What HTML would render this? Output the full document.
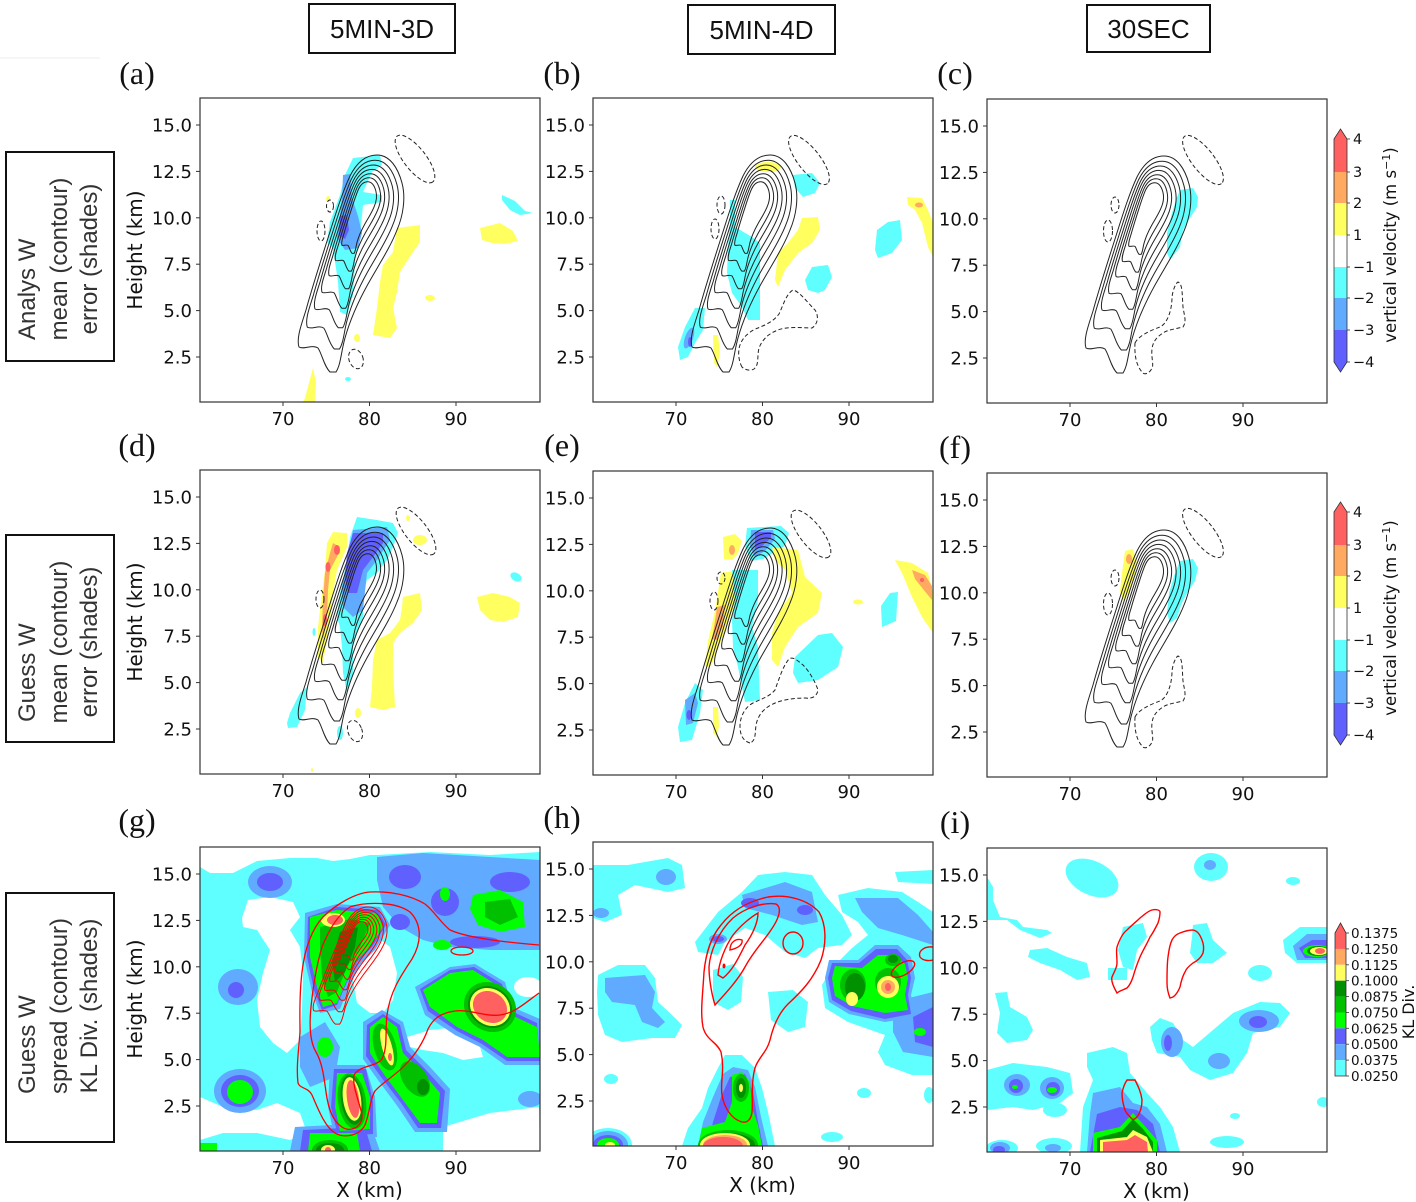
<!DOCTYPE html>
<html><head><meta charset="utf-8">
<style>
html,body{margin:0;padding:0;background:#fff;}
svg{display:block;}
.t{font-family:"DejaVu Sans","Liberation Sans",sans-serif;font-size:18px;fill:#111;}
.e{text-anchor:end;}
.m{text-anchor:middle;}
.lab{font-family:"DejaVu Sans","Liberation Sans",sans-serif;font-size:20px;fill:#111;text-anchor:middle;}
.cb{font-family:"DejaVu Sans","Liberation Sans",sans-serif;font-size:14.5px;fill:#111;}
.cb3{font-family:"DejaVu Sans","Liberation Sans",sans-serif;font-size:13.5px;fill:#111;}
.hd{font-family:"Liberation Sans",sans-serif;font-size:26px;fill:#111;text-anchor:middle;}
.bx{font-family:"Liberation Sans",sans-serif;font-size:24px;fill:#333;}
.pl{font-family:"Liberation Serif",serif;font-size:32px;fill:#111;text-anchor:middle;}
.dash{fill:none;stroke:#222;stroke-width:1;stroke-dasharray:4 2.5;}
</style></head><body>
<svg width="1416" height="1202" viewBox="0 0 1416 1202" xmlns="http://www.w3.org/2000/svg">
<defs>
<clipPath id="cp"><rect x="0" y="0" width="340" height="304"/></clipPath>
<path id="oc" fill="none" vector-effect="non-scaling-stroke" d="M130,274 C124,268 122,256 118,250 C112,246 104,252 99,249 C96,240 102,225 106,212 C112,190 120,165 128,140 C135,118 142,95 150,78 C157,64 166,57 177,57 C190,57 198,70 202,85 C206,100 203,118 197,132 C190,150 178,168 168,186 C158,204 150,222 145,240 C141,254 141,266 136,274 Z"/>
<g id="nest">
<use href="#oc"/>
<use href="#oc" transform="matrix(0.87 0 0 0.87 21.19 12.61)"/>
<use href="#oc" transform="matrix(0.75 0 0 0.75 40.75 24.25)"/>
<use href="#oc" transform="matrix(0.64 0 0 0.64 58.68 34.92)"/>
<use href="#oc" transform="matrix(0.53 0 0 0.53 76.61 45.59)"/>
<use href="#oc" transform="matrix(0.43 0 0 0.43 92.91 55.29)"/>
<use href="#oc" transform="matrix(0.33 0 0 0.33 109.21 64.99)"/>
</g>
<g id="ticks" stroke="#333" stroke-width="1">
<line x1="-4" y1="27" x2="0" y2="27"/><line x1="-4" y1="73.4" x2="0" y2="73.4"/><line x1="-4" y1="119.8" x2="0" y2="119.8"/><line x1="-4" y1="166.2" x2="0" y2="166.2"/><line x1="-4" y1="212.6" x2="0" y2="212.6"/><line x1="-4" y1="259" x2="0" y2="259"/>
<line x1="83" y1="304" x2="83" y2="308"/><line x1="169.5" y1="304" x2="169.5" y2="308"/><line x1="256" y1="304" x2="256" y2="308"/>
</g>
<g id="cbar1">
<polygon fill="#ff6060" points="1334,172 1334,139 1340.5,129 1347,139 1347,172"/>
<rect x="1334" y="172" width="13" height="31" fill="#ffaa60"/>
<rect x="1334" y="203" width="13" height="32" fill="#ffff60"/>
<rect x="1334" y="235" width="13" height="32" fill="#ffffff"/>
<rect x="1334" y="267" width="13" height="31" fill="#60ffff"/>
<rect x="1334" y="298" width="13" height="32" fill="#60aaff"/>
<polygon fill="#6060ff" points="1334,330 1347,330 1347,362 1340.5,372 1334,362"/>
<polygon fill="none" stroke="#333" stroke-width="0.8" points="1334,139 1340.5,129 1347,139 1347,362 1340.5,372 1334,362"/>
<g stroke="#333" stroke-width="0.8"><line x1="1347" y1="139" x2="1350" y2="139"/><line x1="1347" y1="172" x2="1350" y2="172"/><line x1="1347" y1="203" x2="1350" y2="203"/><line x1="1347" y1="235" x2="1350" y2="235"/><line x1="1347" y1="267" x2="1350" y2="267"/><line x1="1347" y1="298" x2="1350" y2="298"/><line x1="1347" y1="330" x2="1350" y2="330"/><line x1="1347" y1="362" x2="1350" y2="362"/></g>
</g>
</defs>

<line x1="0" y1="58" x2="100" y2="58" stroke="#eeeeee" stroke-width="1"/>

<!-- Headers -->
<rect x="309" y="4" width="146" height="49" fill="none" stroke="#111" stroke-width="2"/>
<text class="hd" x="382" y="38">5MIN-3D</text>
<rect x="688" y="5" width="147" height="49" fill="none" stroke="#111" stroke-width="2"/>
<text class="hd" x="761.5" y="39">5MIN-4D</text>
<rect x="1087" y="5" width="123" height="47" fill="none" stroke="#111" stroke-width="2"/>
<text class="hd" x="1148.5" y="38">30SEC</text>

<!-- Left row boxes -->
<rect x="6" y="152" width="108" height="209" fill="none" stroke="#111" stroke-width="2"/>
<text class="bx" transform="translate(35 340) rotate(-90)">Analys W</text>
<text class="bx" text-anchor="middle" transform="translate(67 259) rotate(-90)">mean (contour)</text>
<text class="bx" text-anchor="middle" transform="translate(97 259) rotate(-90)">error (shades)</text>

<rect x="6" y="535" width="108" height="207" fill="none" stroke="#111" stroke-width="2"/>
<text class="bx" transform="translate(35 722) rotate(-90)">Guess W</text>
<text class="bx" text-anchor="middle" transform="translate(67 642) rotate(-90)">mean (contour)</text>
<text class="bx" text-anchor="middle" transform="translate(97 642) rotate(-90)">error (shades)</text>

<rect x="6" y="893" width="108" height="249" fill="none" stroke="#111" stroke-width="2"/>
<text class="bx" transform="translate(35 1094) rotate(-90)">Guess W</text>
<text class="bx" text-anchor="middle" transform="translate(67 1006) rotate(-90)">spread (contour)</text>
<text class="bx" text-anchor="middle" transform="translate(97 1006) rotate(-90)">KL Div. (shades)</text>

<!-- Panel letters -->
<text class="pl" x="137" y="84">(a)</text>
<text class="pl" x="562" y="84">(b)</text>
<text class="pl" x="955" y="84">(c)</text>
<text class="pl" x="137" y="456">(d)</text>
<text class="pl" x="562" y="456">(e)</text>
<text class="pl" x="955" y="458">(f)</text>
<text class="pl" x="137" y="831">(g)</text>
<text class="pl" x="562" y="828">(h)</text>
<text class="pl" x="955" y="833">(i)</text>

<!-- ============ Panel a ============ -->
<g transform="translate(200 98)">
<g clip-path="url(#cp)">
<polygon fill="#60ffff" points="153,60 180,57 182,67 172,74 163,94 182,97 182,104 163,107 160,137 155,164 153,197 147,217 140,214 138,184 133,150 127,144 130,124 140,97 145,77"/>
<polygon fill="#60aaff" points="143,77 150,76 152,100 158,118 162,135 158,150 145,152 137,140 140,118 142,100"/>
<polygon fill="#6060ff" points="140,118 147,117 149,132 145,141 139,138"/>
<polygon fill="#ffff60" points="197,130 220,127 220,144 213,154 200,174 197,194 193,210 197,230 190,240 173,237 177,210 180,184 183,167 193,154"/>
<polygon fill="#ffff60" points="280,130 300,125 313,133 318,143 305,146 292,145 282,142"/>
<polygon fill="#60ffff" points="302,97 315,103 325,113 333,115 320,117 310,112 302,102"/>
<ellipse fill="#ffff60" cx="230" cy="200" rx="5" ry="3"/>
<ellipse fill="#ffff60" cx="157" cy="240" rx="3" ry="4"/>
<ellipse fill="#ffff60" cx="128" cy="101" rx="2" ry="3"/>
<polygon fill="#ffff60" points="105,300 109,285 113,270 116,285 115,304 103,304"/>
<ellipse fill="#60ffff" cx="148" cy="281" rx="3" ry="2"/>
<g stroke="#222" stroke-width="1"><use href="#nest"/></g>
<ellipse class="dash" cx="215" cy="61" rx="29" ry="11" transform="rotate(52 215 61)"/>
<ellipse class="dash" cx="130" cy="108" rx="3.5" ry="6"/>
<ellipse class="dash" cx="121" cy="133" rx="4" ry="10"/>
<ellipse class="dash" cx="156" cy="261" rx="7" ry="10" transform="rotate(-20 156 261)"/>
</g>
<rect width="340" height="304" fill="none" stroke="#333" stroke-width="1.2"/>
<use href="#ticks"/>
<text class="t e" x="-8" y="33.5">15.0</text><text class="t e" x="-8" y="79.9">12.5</text><text class="t e" x="-8" y="126.3">10.0</text><text class="t e" x="-8" y="172.7">7.5</text><text class="t e" x="-8" y="219.1">5.0</text><text class="t e" x="-8" y="265.5">2.5</text>
<text class="t m" x="83" y="327">70</text><text class="t m" x="169.5" y="327">80</text><text class="t m" x="256" y="327">90</text>
<text class="lab" transform="translate(-58 152) rotate(-90)">Height (km)</text>
</g>

<!-- ============ Panel b ============ -->
<g transform="translate(593 98)">
<g clip-path="url(#cp)">
<ellipse fill="#ffff60" cx="175" cy="69" rx="13" ry="5"/>
<polygon fill="#60ffff" points="200,77 219,75 227,85 222,95 210,99 202,90"/>
<polygon fill="#60ffff" points="137,102 142,102 142,129 159,139 167,145 167,222 155,222 149,209 139,195 134,175 135,149 137,125"/>
<polygon fill="#ffff60" points="209,120 225,119 227,132 219,145 205,155 192,172 185,189 182,182 185,155 195,145 205,132"/>
<polygon fill="#60ffff" points="219,169 235,167 239,179 232,192 225,195 215,192 212,182"/>
<polygon fill="#60ffff" points="284,132 295,124 307,122 309,142 299,155 285,160 282,152"/>
<polygon fill="#ffff60" points="314,99 329,100 335,112 340,125 340,159 335,149 329,125 322,112 315,107"/>
<ellipse fill="#ffaa60" cx="326" cy="107" rx="4" ry="2.5"/>
<polygon fill="#60ffff" points="85,249 92,229 102,210 112,210 110,232 102,245 95,259 87,262"/>
<ellipse fill="#60aaff" cx="96" cy="240" rx="4" ry="11" transform="rotate(20 96 240)"/>
<ellipse fill="#6060ff" cx="97" cy="244" rx="2" ry="5"/>
<polygon fill="#ffff60" points="120,237 125,237 127,255 124,269 121,265"/>
<g stroke="#222" stroke-width="1"><use href="#nest"/></g>
<ellipse class="dash" cx="216" cy="62" rx="30" ry="11" transform="rotate(52 216 62)"/>
<ellipse class="dash" cx="128" cy="107" rx="4" ry="9"/>
<ellipse class="dash" cx="122" cy="131" rx="4" ry="10"/>
<path class="dash" d="M149,269 C145,262 145,252 147,247 C150,238 159,232 165,230 C172,227 180,224 186,216 C190,208 193,196 200,192 C206,193 215,205 222,212 C226,218 225,226 219,230 C210,230 195,228 185,232 C177,235 170,240 166,250 C164,258 166,266 162,270 C160,273 153,273 149,269 Z"/>
</g>
<rect width="340" height="304" fill="none" stroke="#333" stroke-width="1.2"/>
<use href="#ticks"/>
<text class="t e" x="-8" y="33.5">15.0</text><text class="t e" x="-8" y="79.9">12.5</text><text class="t e" x="-8" y="126.3">10.0</text><text class="t e" x="-8" y="172.7">7.5</text><text class="t e" x="-8" y="219.1">5.0</text><text class="t e" x="-8" y="265.5">2.5</text>
<text class="t m" x="83" y="327">70</text><text class="t m" x="169.5" y="327">80</text><text class="t m" x="256" y="327">90</text>
</g>

<!-- ============ Panel c ============ -->
<g transform="translate(987 99)">
<g clip-path="url(#cp)">
<polygon fill="#60ffff" points="193,91 206,89 211,98 210,108 203,119 196,131 193,148 183,161 180,154 180,134 185,114 190,98"/>
<g stroke="#222" stroke-width="1"><use href="#nest"/></g>
<ellipse class="dash" cx="216" cy="61" rx="30" ry="11" transform="rotate(52 216 61)"/>
<ellipse class="dash" cx="128" cy="106" rx="4" ry="8"/>
<ellipse class="dash" cx="121" cy="132" rx="4.5" ry="11"/>
<path class="dash" d="M148,244 C152,236 165,231 173,228 C181,224 185,210 185,198 C186,190 189,184 191,183 C196,185 195,197 196,208 C197,216 200,222 196,228 C188,230 180,231 176,234 C170,238 166,242 165,250 C164,258 167,266 165,269 C163,274 158,276 156,274 C152,270 147,262 148,244 Z"/>
</g>
<rect width="340" height="304" fill="none" stroke="#333" stroke-width="1.2"/>
<use href="#ticks"/>
<text class="t e" x="-8" y="33.5">15.0</text><text class="t e" x="-8" y="79.9">12.5</text><text class="t e" x="-8" y="126.3">10.0</text><text class="t e" x="-8" y="172.7">7.5</text><text class="t e" x="-8" y="219.1">5.0</text><text class="t e" x="-8" y="265.5">2.5</text>
<text class="t m" x="83" y="327">70</text><text class="t m" x="169.5" y="327">80</text><text class="t m" x="256" y="327">90</text>
</g>

<!-- Colorbar 1 -->
<use href="#cbar1"/>
<text class="cb" x="1353" y="144">4</text><text class="cb" x="1353" y="177">3</text><text class="cb" x="1353" y="208">2</text><text class="cb" x="1353" y="240">1</text><text class="cb" x="1353" y="272">−1</text><text class="cb" x="1353" y="303">−2</text><text class="cb" x="1353" y="335">−3</text><text class="cb" x="1353" y="367">−4</text>
<text class="cb" style="font-size:16.5px" text-anchor="middle" transform="translate(1396 245) rotate(-90)">vertical velocity (m s<tspan dy="-6" style="font-size:11px">−1</tspan><tspan dy="6">)</tspan></text>

<!-- ============ Panel d ============ -->
<g transform="translate(200 470)">
<g clip-path="url(#cp)">
<polygon fill="#60ffff" points="157,47 177,50 193,53 198,63 193,77 187,90 177,103 167,110 163,123 163,147 158,160 153,177 153,203 147,223 143,203 142,177 140,157 137,147 140,123 147,90 150,67"/>
<polygon fill="#60aaff" points="153,60 187,57 190,70 177,90 167,103 163,140 153,147 143,137 142,117 147,90"/>
<polygon fill="#6060ff" points="153,63 183,63 183,73 173,87 163,100 157,123 148,123 145,107 147,83"/>
<polygon fill="#ffff60" points="133,62 147,63 147,77 137,100 133,123 130,150 127,170 123,193 118,187 118,157 122,123 125,100 127,73"/>
<polygon fill="#ffaa60" points="133,73 140,77 137,87 130,100 128,120 127,147 123,170 122,157 123,130 125,103 130,83"/>
<ellipse fill="#ff6060" cx="137" cy="80" rx="3" ry="5"/>
<ellipse fill="#ff6060" cx="128" cy="97" rx="2.5" ry="5"/>
<ellipse fill="#ff6060" cx="125" cy="150" rx="2" ry="6"/>
<polygon fill="#ffff60" points="203,127 220,123 222,140 213,153 200,163 193,173 193,197 195,237 183,240 170,237 172,217 173,190 177,170 190,163 200,150 202,137"/>
<polygon fill="#ffff60" points="277,127 293,123 310,127 320,133 318,147 303,152 290,150 280,140"/>
<ellipse fill="#60ffff" cx="316" cy="107" rx="6" ry="4" transform="rotate(30 316 107)"/>
<ellipse fill="#ffff60" cx="220" cy="70" rx="7" ry="5"/>
<ellipse fill="#ffff60" cx="208" cy="48" rx="2" ry="3"/>
<polygon fill="#60ffff" points="87,253 90,243 100,223 107,217 105,240 97,257 88,258"/>
<ellipse fill="#60ffff" cx="140" cy="263" rx="3" ry="7"/>
<ellipse fill="#ffff60" cx="158" cy="243" rx="3" ry="5"/>
<ellipse fill="#ffff60" cx="112" cy="300" rx="1" ry="2"/>
<ellipse fill="#60ffff" cx="114" cy="162" rx="1.5" ry="4"/>
<g stroke="#222" stroke-width="1"><use href="#nest"/></g>
<ellipse class="dash" cx="216" cy="61" rx="29" ry="11" transform="rotate(52 216 61)"/>
<ellipse class="dash" cx="120" cy="129" rx="4" ry="9"/>
<ellipse class="dash" cx="155" cy="261" rx="7" ry="11" transform="rotate(-20 155 261)"/>
</g>
<rect width="340" height="304" fill="none" stroke="#333" stroke-width="1.2"/>
<use href="#ticks"/>
<text class="t e" x="-8" y="33.5">15.0</text><text class="t e" x="-8" y="79.9">12.5</text><text class="t e" x="-8" y="126.3">10.0</text><text class="t e" x="-8" y="172.7">7.5</text><text class="t e" x="-8" y="219.1">5.0</text><text class="t e" x="-8" y="265.5">2.5</text>
<text class="t m" x="83" y="327">70</text><text class="t m" x="169.5" y="327">80</text><text class="t m" x="256" y="327">90</text>
<text class="lab" transform="translate(-58 152) rotate(-90)">Height (km)</text>
</g>

<!-- ============ Panel e ============ -->
<g transform="translate(593 471)">
<g clip-path="url(#cp)">
<polygon fill="#ffff60" points="130,66 142,63 149,70 145,82 139,89 131,88"/>
<ellipse fill="#ffaa60" cx="139" cy="79" rx="3" ry="5"/>
<polygon fill="#ffff60" points="128,102 140,100 143,130 130,165 118,195 112,196 115,170 122,140"/>
<polygon fill="#ffaa60" points="124,136 132,134 130,155 124,169 119,168 122,150"/>
<polygon fill="#ffff60" points="120,236 125,236 126,255 124,266 120,262"/>
<polygon fill="#60ffff" points="154,57 188,55 196,62 192,75 180,82 170,88 158,90 152,75"/>
<polygon fill="#60aaff" points="158,59 180,59 182,68 172,80 162,86 157,75"/>
<polygon fill="#6060ff" points="162,61 178,61 178,67 168,76 162,78"/>
<polygon fill="#60ffff" points="139,99 165,99 165,129 159,156 165,176 167,229 152,231 145,196 140,176 139,149 142,129"/>
<polygon fill="#ffff60" points="179,76 205,79 212,106 229,122 225,142 205,156 192,176 185,196 179,189 179,162 185,142 199,122 192,99 182,89"/>
<polygon fill="#60ffff" points="202,186 225,164 239,162 250,176 245,196 225,209 205,212 200,202"/>
<polygon fill="#60ffff" points="297,122 305,121 303,150 289,156 288,135"/>
<polygon fill="#ffff60" points="302,89 319,92 335,102 340,122 340,162 329,146 319,126 309,102"/>
<polygon fill="#ffaa60" points="319,99 332,104 339,115 339,129 330,118 322,108"/>
<ellipse fill="#ff6060" cx="329" cy="109" rx="2" ry="2"/>
<ellipse fill="#ffff60" cx="265" cy="131" rx="5" ry="2.5"/>
<polygon fill="#60ffff" points="85,256 92,232 102,212 110,219 107,242 99,269 87,271"/>
<polygon fill="#60aaff" points="92,229 102,222 105,232 100,252 93,254"/>
<ellipse fill="#6060ff" cx="96" cy="244" rx="2.5" ry="5"/>
<g stroke="#222" stroke-width="1"><use href="#nest"/></g>
<ellipse class="dash" cx="218" cy="63" rx="29" ry="11" transform="rotate(52 218 63)"/>
<ellipse class="dash" cx="128" cy="107" rx="4" ry="6"/>
<ellipse class="dash" cx="121" cy="130" rx="4" ry="9"/>
<path class="dash" d="M157,272 C150,270 147,264 147,255 C147,246 152,236 160,232 C168,228 176,226 182,219 C186,208 190,195 196,188 C200,185 205,190 210,194 C216,200 222,210 225,219 C224,225 220,228 212,227 C200,227 188,229 180,233 C171,237 165,244 163,254 C162,262 163,270 157,272 Z"/>
</g>
<rect width="340" height="304" fill="none" stroke="#333" stroke-width="1.2"/>
<use href="#ticks"/>
<text class="t e" x="-8" y="33.5">15.0</text><text class="t e" x="-8" y="79.9">12.5</text><text class="t e" x="-8" y="126.3">10.0</text><text class="t e" x="-8" y="172.7">7.5</text><text class="t e" x="-8" y="219.1">5.0</text><text class="t e" x="-8" y="265.5">2.5</text>
<text class="t m" x="83" y="327">70</text><text class="t m" x="169.5" y="327">80</text><text class="t m" x="256" y="327">90</text>
</g>

<!-- ============ Panel f ============ -->
<g transform="translate(987 473)">
<g clip-path="url(#cp)">
<polygon fill="#ffff60" points="138,78 146,76 150,90 147,105 142,120 136,128 133,118 135,100"/>
<ellipse fill="#ffaa60" cx="142" cy="86" rx="3" ry="5"/>
<polygon fill="#60ffff" points="193,88 206,86 211,95 208,108 200,120 194,132 190,145 183,150 180,140 182,120 187,103"/>
<g stroke="#222" stroke-width="1"><use href="#nest"/></g>
<ellipse class="dash" cx="216" cy="60" rx="30" ry="11" transform="rotate(52 216 60)"/>
<ellipse class="dash" cx="128" cy="105" rx="4" ry="8"/>
<ellipse class="dash" cx="121" cy="131" rx="4.5" ry="11"/>
<path class="dash" d="M148,244 C152,236 165,231 173,228 C181,224 185,210 185,198 C186,190 189,184 191,183 C196,185 195,197 196,208 C197,216 200,222 196,228 C188,230 180,231 176,234 C170,238 166,242 165,250 C164,258 167,266 165,269 C163,274 158,276 156,274 C152,270 147,262 148,244 Z"/>
</g>
<rect width="340" height="304" fill="none" stroke="#333" stroke-width="1.2"/>
<use href="#ticks"/>
<text class="t e" x="-8" y="33.5">15.0</text><text class="t e" x="-8" y="79.9">12.5</text><text class="t e" x="-8" y="126.3">10.0</text><text class="t e" x="-8" y="172.7">7.5</text><text class="t e" x="-8" y="219.1">5.0</text><text class="t e" x="-8" y="265.5">2.5</text>
<text class="t m" x="83" y="327">70</text><text class="t m" x="169.5" y="327">80</text><text class="t m" x="256" y="327">90</text>
</g>

<!-- Colorbar 2 -->
<use href="#cbar1" transform="translate(0 373)"/>
<text class="cb" x="1353" y="517">4</text><text class="cb" x="1353" y="550">3</text><text class="cb" x="1353" y="581">2</text><text class="cb" x="1353" y="613">1</text><text class="cb" x="1353" y="645">−1</text><text class="cb" x="1353" y="676">−2</text><text class="cb" x="1353" y="708">−3</text><text class="cb" x="1353" y="740">−4</text>
<text class="cb" style="font-size:16.5px" text-anchor="middle" transform="translate(1396 618) rotate(-90)">vertical velocity (m s<tspan dy="-6" style="font-size:11px">−1</tspan><tspan dy="6">)</tspan></text>

<!-- ============ Panel g ============ -->
<g transform="translate(200 847)">
<g clip-path="url(#cp)">
<rect width="340" height="304" fill="#60ffff"/>
<g fill="#ffffff">
<polygon points="0,0 340,0 340,5 290,8 230,5 177,8 170,8 150,12 133,14 117,11 90,11 57,14 33,26 10,26 0,20"/>
<polygon points="42,71 48,53 70,50 93,55 100,70 90,83 100,100 103,126 102,160 100,193 87,206 73,196 60,180 57,153 63,126 70,103 57,83 43,80"/>
<polygon points="157,103 177,90 190,100 197,126 193,153 183,166 170,166 157,156 153,133"/>
<polygon points="207,190 230,183 257,180 277,190 283,210 263,213 243,206 223,203 210,200"/>
<ellipse cx="266" cy="28" rx="7" ry="5"/>
<ellipse cx="328" cy="140" rx="14" ry="10"/>
<polygon points="0,250 23,260 57,263 77,256 100,266 107,286 90,293 57,286 23,286 0,293"/>
<polygon points="243,280 290,266 339,260 340,304 243,304"/>
</g>
<g fill="#60aaff">
<ellipse cx="70" cy="35" rx="22" ry="16"/>
<ellipse cx="38" cy="140" rx="20" ry="18"/>
<polygon points="177,10 223,6 290,10 340,13 340,103 290,103 250,100 223,93 200,80 183,60 177,33"/>
<polygon points="105,66 137,57 180,60 190,78 175,103 160,118 150,138 140,162 120,166 112,145 104,110"/>
<polygon points="215,140 250,120 275,117 305,135 312,160 340,172 340,218 305,218 280,200 255,188 225,168"/>
<polygon points="163,175 182,163 203,175 210,200 230,220 250,242 247,285 215,285 198,260 178,233 163,212"/>
<polygon points="130,218 165,218 175,250 177,290 135,292 128,260"/>
<ellipse cx="40" cy="244" rx="26" ry="22"/>
<polygon points="95,280 170,276 180,304 90,304"/>
<polygon points="100,190 125,175 140,200 135,230 110,240 100,220"/>
<ellipse cx="330" cy="252" rx="12" ry="8"/>
</g>
<g fill="#6060ff">
<ellipse cx="70" cy="35" rx="13" ry="9"/>
<ellipse cx="36" cy="143" rx="8" ry="8"/>
<ellipse cx="205" cy="30" rx="16" ry="12"/>
<ellipse cx="245" cy="55" rx="14" ry="14"/>
<ellipse cx="310" cy="35" rx="20" ry="10"/>
<ellipse cx="275" cy="95" rx="25" ry="6"/>
<ellipse cx="200" cy="75" rx="10" ry="8"/>
<polygon points="108,70 137,60 178,63 186,78 172,100 157,115 147,135 137,158 122,163 114,143 107,110"/>
<polygon points="220,142 250,123 274,120 302,137 309,163 337,176 340,214 307,214 282,197 257,184 228,164"/>
<polygon points="167,178 183,167 200,178 206,203 226,223 245,244 241,281 218,281 201,256 181,230 166,209"/>
<polygon points="134,222 166,222 173,255 173,287 138,289 131,260"/>
<ellipse cx="40" cy="244" rx="19" ry="16"/>
<polygon points="103,283 165,280 172,304 100,304"/>
</g>
<g fill="#00ff00">
<polygon points="110,70 137,63 177,66 183,80 170,100 157,113 147,133 137,156 123,160 117,140 110,110"/>
<polygon points="273,48 300,43 323,55 325,80 300,85 278,78 270,62"/>
<ellipse cx="245" cy="47" rx="5" ry="7"/>
<ellipse cx="242" cy="98" rx="9" ry="5"/>
<polygon points="223,143 250,126 273,123 300,140 307,166 337,180 340,210 307,210 283,193 257,180 230,160"/>
<polygon points="170,180 183,170 197,180 203,206 223,226 240,246 237,276 220,276 203,253 183,226 170,206"/>
<polygon points="137,226 162,226 170,250 170,282 140,284 135,260"/>
<ellipse cx="40" cy="245" rx="13" ry="12"/>
<polygon points="110,286 157,286 160,304 108,304"/>
<rect x="0" y="296" width="17" height="8"/>
<ellipse cx="125" cy="200" rx="8" ry="10"/>
</g>
<g fill="#00c000">
<polygon points="120,80 150,72 170,76 160,100 147,120 137,145 128,150 122,130 120,100"/>
<polygon points="285,55 310,52 318,70 300,78 285,70"/>
<ellipse cx="290" cy="160" rx="27" ry="24" transform="rotate(35 290 160)"/>
<ellipse cx="185" cy="200" rx="11" ry="24" transform="rotate(-15 185 200)"/>
<ellipse cx="215" cy="232" rx="12" ry="20" transform="rotate(-35 215 232)"/>
<ellipse cx="152" cy="254" rx="14" ry="28" transform="rotate(-8 152 254)"/>
<ellipse cx="130" cy="303" rx="18" ry="10"/>
</g>
<g fill="#009000">
<polygon points="140,85 158,80 155,100 145,125 135,135 132,115"/>
<ellipse cx="290" cy="160" rx="23" ry="20" transform="rotate(35 290 160)"/>
<ellipse cx="152" cy="253" rx="11" ry="25" transform="rotate(-8 152 253)"/>
<ellipse cx="223" cy="240" rx="6" ry="8"/>
<ellipse cx="130" cy="303" rx="14" ry="7"/>
</g>
<g fill="#ffff60">
<ellipse cx="133" cy="73" rx="12" ry="7"/>
<ellipse cx="290" cy="160" rx="21" ry="18" transform="rotate(35 290 160)"/>
<ellipse cx="187" cy="200" rx="5" ry="19" transform="rotate(-15 187 200)"/>
<ellipse cx="152" cy="252" rx="9" ry="22" transform="rotate(-8 152 252)"/>
<ellipse cx="128" cy="303" rx="7" ry="5"/>
</g>
<g fill="#ff6060">
<ellipse cx="135" cy="73" rx="8" ry="5"/>
<ellipse cx="290" cy="160" rx="18" ry="15" transform="rotate(35 290 160)"/>
<ellipse cx="190" cy="210" rx="2" ry="4"/>
<ellipse cx="153" cy="252" rx="6" ry="19" transform="rotate(-8 153 252)"/>
<ellipse cx="128" cy="303" rx="3" ry="3"/>
</g>
<g fill="none" stroke="#ff0000" stroke-width="1.3">
<path d="M339,98 C315,96 270,92 250,83 C240,75 235,65 225,57 C210,48 190,44 170,45 C155,46 135,58 123,70 C112,82 105,100 102,125 C99,150 100,170 100,185 C99,200 96,220 98,236 C100,242 108,240 112,248 C118,262 125,280 135,286 C145,292 160,288 165,278 C170,265 170,252 175,244 C183,235 196,228 205,218 C215,208 223,196 228,182 C233,172 240,166 255,164 C270,162 285,170 300,168 C315,166 325,156 339,146"/>
<path d="M150,60 C165,55 195,54 210,65 C222,77 222,95 212,112 C200,130 190,145 187,168 C185,185 188,200 182,212 C176,220 160,218 154,228 C152,240 160,256 162,268 C163,280 150,286 142,280 C132,274 128,260 126,245 C124,230 122,215 116,205 C110,195 109,180 111,160 C113,140 116,120 122,100 C128,85 137,68 150,60 Z"/>
<ellipse cx="262" cy="104" rx="11" ry="4"/>
</g>
<g fill="none" stroke="#ff0000" stroke-width="1">
<use href="#nest" transform="matrix(0.7 0 0 0.54 44.4 29.2)"/>
</g>
</g>
<rect width="340" height="304" fill="none" stroke="#333" stroke-width="1.2"/>
<use href="#ticks"/>
<text class="t e" x="-8" y="33.5">15.0</text><text class="t e" x="-8" y="79.9">12.5</text><text class="t e" x="-8" y="126.3">10.0</text><text class="t e" x="-8" y="172.7">7.5</text><text class="t e" x="-8" y="219.1">5.0</text><text class="t e" x="-8" y="265.5">2.5</text>
<text class="t m" x="83" y="327">70</text><text class="t m" x="169.5" y="327">80</text><text class="t m" x="256" y="327">90</text>
<text class="lab" transform="translate(-58 152) rotate(-90)">Height (km)</text>
<text class="lab" x="169.5" y="350">X (km)</text>
</g>

<!-- ============ Panel h ============ -->
<g transform="translate(593 842)">
<g clip-path="url(#cp)">
<g fill="#60ffff">
<polygon points="0,23 35,23 75,16 89,23 92,46 75,50 42,43 25,53 29,73 12,80 0,76"/>
<polygon points="5,133 25,123 52,123 62,136 65,160 79,173 89,183 82,196 59,196 29,200 12,193 5,173 4,150"/>
<polygon points="102,100 125,70 149,50 165,33 192,30 219,33 232,53 249,73 259,93 249,103 225,106 212,116 192,110 172,93 152,86 132,100 125,113 105,110"/>
<polygon points="120,128 140,122 150,135 148,160 135,168 120,160"/>
<polygon points="245,53 275,46 309,50 325,60 340,70 340,233 319,233 292,223 285,210 292,193 255,180 232,166 229,143 239,126 259,106 275,93 265,80 249,70"/>
<polygon points="302,30 340,28 340,42 305,40"/>
<polygon points="175,150 200,148 215,160 212,185 195,190 178,178"/>
<polygon points="89,304 95,286 109,266 115,246 125,226 132,213 149,213 162,226 169,246 175,270 182,304"/>
<ellipse cx="18" cy="237" rx="7" ry="5"/>
<ellipse cx="271" cy="251" rx="7" ry="5"/>
<ellipse cx="239" cy="295" rx="11" ry="5"/>
<ellipse cx="336" cy="253" rx="5" ry="8"/>
<ellipse cx="15" cy="303" rx="24" ry="17"/>
</g>
<g fill="#60aaff">
<ellipse cx="73" cy="35" rx="10" ry="8"/>
<ellipse cx="8" cy="71" rx="8" ry="5"/>
<polygon points="12,136 52,133 62,150 59,166 72,180 65,186 49,180 42,163 19,160 12,150"/>
<polygon points="149,53 192,40 219,50 225,80 209,83 179,73 152,66"/>
<ellipse cx="125" cy="97" rx="9" ry="5"/>
<polygon points="262,56 305,56 325,73 340,90 340,103 309,93 285,86 269,70"/>
<polygon points="236,118 265,118 282,103 305,103 318,115 322,136 318,153 322,175 292,180 256,172 236,160 232,136"/>
<polygon points="300,160 340,150 340,215 310,210 300,190"/>
<polygon points="105,304 110,280 120,255 130,232 140,225 155,228 162,245 168,275 175,304"/>
<ellipse cx="15" cy="303" rx="20" ry="14"/>
</g>
<g fill="#6060ff">
<ellipse cx="157" cy="61" rx="9" ry="5"/>
<ellipse cx="212" cy="68" rx="8" ry="5"/>
<ellipse cx="125" cy="97" rx="6" ry="3"/>
<polygon points="239,121 266,121 283,107 304,107 314,118 318,136 315,153 318,172 292,177 258,169 239,158 235,136"/>
<polygon points="320,175 340,165 340,205 322,200"/>
<polygon points="115,304 120,280 128,255 137,235 152,232 160,250 165,280 170,304"/>
<ellipse cx="15" cy="303" rx="15" ry="10"/>
</g>
<g fill="#00ff00">
<polygon points="242,124 269,126 285,113 302,113 312,122 315,136 312,153 315,168 292,171 259,164 242,154 239,136"/>
<polygon points="139,233 149,230 157,240 159,266 165,283 169,304 105,304 109,286 132,280 139,260"/>
<ellipse cx="15" cy="303" rx="11" ry="7"/>
<ellipse cx="327" cy="190" rx="6" ry="4"/>
</g>
<g fill="#00c000">
<ellipse cx="260" cy="143" rx="13" ry="16"/>
<ellipse cx="295" cy="140" rx="13" ry="14"/>
<ellipse cx="300" cy="118" rx="8" ry="6"/>
<ellipse cx="148" cy="246" rx="8" ry="14"/>
<ellipse cx="135" cy="303" rx="30" ry="15"/>
</g>
<g fill="#009000">
<ellipse cx="262" cy="145" rx="10" ry="14"/>
<ellipse cx="300" cy="117" rx="5" ry="4"/>
<ellipse cx="148" cy="246" rx="5" ry="10"/>
<ellipse cx="135" cy="303" rx="27" ry="12"/>
</g>
<g fill="#ffff60">
<ellipse cx="259" cy="157" rx="6" ry="7"/>
<ellipse cx="295" cy="145" rx="11" ry="11"/>
<ellipse cx="148" cy="246" rx="2" ry="4"/>
<ellipse cx="132" cy="303" rx="25" ry="12"/>
<ellipse cx="17" cy="303" rx="5" ry="3"/>
</g>
<g fill="#ffaa60">
<ellipse cx="295" cy="145" rx="7" ry="7"/>
<ellipse cx="132" cy="303" rx="22" ry="10"/>
</g>
<g fill="#ff6060">
<ellipse cx="295" cy="145" rx="3" ry="4"/>
<ellipse cx="130" cy="304" rx="20" ry="9"/>
</g>
<g fill="none" stroke="#ff0000" stroke-width="1.4">
<path d="M149,280 C138,277 131,265 129,253 C127,240 132,228 128,210 C124,200 113,198 110,185 C107,170 110,150 111,130 C113,110 118,95 128,83 C138,70 152,60 175,55 C195,52 215,58 226,70 C233,82 234,100 228,118 C220,138 208,150 195,162 C185,172 180,185 177,198 C174,210 165,216 162,226 C158,240 160,258 159,270 C158,278 154,281 149,280 Z"/>
<path d="M122,163 C118,150 116,135 116,125 C117,110 125,90 140,76 C152,66 170,60 183,62 C190,66 185,78 178,88 C170,100 160,110 152,125 C145,138 132,152 122,163 Z"/>
<path d="M125,133 C126,120 132,105 140,93 C148,83 158,75 165,71 C165,80 160,92 152,103 C146,115 140,128 130,136 Z"/>
<path d="M137,108 C137,100 143,96 149,98 C150,102 146,106 137,108 Z"/>
<ellipse cx="200" cy="101" rx="10" ry="11"/>
<ellipse cx="310" cy="127" rx="13" ry="6" transform="rotate(-30 310 127)"/>
<path d="M340,105 C330,104 325,110 327,115 C330,119 336,119 340,118"/>
</g>
<ellipse cx="131" cy="124" rx="1.5" ry="2.5" fill="#ff0000"/>
</g>
<rect width="340" height="304" fill="none" stroke="#333" stroke-width="1.2"/>
<use href="#ticks"/>
<text class="t e" x="-8" y="33.5">15.0</text><text class="t e" x="-8" y="79.9">12.5</text><text class="t e" x="-8" y="126.3">10.0</text><text class="t e" x="-8" y="172.7">7.5</text><text class="t e" x="-8" y="219.1">5.0</text><text class="t e" x="-8" y="265.5">2.5</text>
<text class="t m" x="83" y="327">70</text><text class="t m" x="169.5" y="327">80</text><text class="t m" x="256" y="327">90</text>
<text class="lab" x="169.5" y="350">X (km)</text>
</g>

<!-- ============ Panel i ============ -->
<g transform="translate(987 848)">
<g clip-path="url(#cp)">
<g fill="#60ffff">
<polygon points="0,29 6,39 6,52 13,69 30,72 36,79 60,82 65,85 53,90 33,82 20,72 0,72"/>
<ellipse cx="105" cy="30" rx="28" ry="17" transform="rotate(25 105 30)"/>
<ellipse cx="224" cy="19" rx="17" ry="14"/>
<ellipse cx="306" cy="33" rx="7" ry="4"/>
<polygon points="43,102 60,100 80,109 100,115 103,129 90,132 73,122 53,115 41,109"/>
<polygon points="121,120 140,120 140,132 121,132"/>
<polygon points="136,79 156,75 160,89 150,102 146,122 136,119 131,102"/>
<polygon points="206,77 220,75 226,92 240,105 226,115 210,115 203,105 205,89"/>
<polygon points="296,92 313,79 340,79 340,115 310,115 298,105"/>
<ellipse cx="273" cy="125" rx="12" ry="8"/>
<polygon points="8,145 20,144 23,159 40,169 46,182 40,192 20,195 10,185 13,165"/>
<polygon points="163,179 173,170 186,175 196,192 206,199 226,182 246,165 273,154 293,155 303,165 293,179 266,185 260,205 246,225 223,232 203,222 193,209 170,205 165,192"/>
<polygon points="0,222 26,215 60,219 83,225 86,245 73,255 46,262 26,259 0,262"/>
<ellipse cx="68" cy="262" rx="12" ry="7"/>
<ellipse cx="15" cy="300" rx="16" ry="8"/>
<ellipse cx="67" cy="298" rx="18" ry="8"/>
<ellipse cx="240" cy="294" rx="17" ry="6"/>
<ellipse cx="248" cy="268" rx="5" ry="3"/>
<ellipse cx="336" cy="254" rx="6" ry="5"/>
<polygon points="100,205 126,199 140,205 143,225 160,245 173,259 186,279 193,304 93,304 96,259 106,232 100,219"/>
</g>
<g fill="#60aaff">
<ellipse cx="223" cy="17" rx="6" ry="5"/>
<polygon points="306,98 320,86 340,86 340,112 310,112"/>
<ellipse cx="185" cy="194" rx="11" ry="15"/>
<ellipse cx="272" cy="173" rx="20" ry="11"/>
<ellipse cx="232" cy="213" rx="11" ry="8"/>
<ellipse cx="30" cy="237" rx="13" ry="11"/>
<ellipse cx="65" cy="240" rx="12" ry="11"/>
<ellipse cx="13" cy="300" rx="10" ry="6"/>
<ellipse cx="66" cy="300" rx="8" ry="4"/>
<polygon points="106,245 133,239 146,255 160,259 173,276 180,304 100,304 103,266"/>
</g>
<g fill="#6060ff">
<ellipse cx="181" cy="195" rx="4" ry="8"/>
<ellipse cx="271" cy="174" rx="9" ry="6"/>
<ellipse cx="29" cy="238" rx="7" ry="7"/>
<ellipse cx="66" cy="241" rx="7" ry="7"/>
<ellipse cx="12" cy="302" rx="6" ry="4"/>
<polygon points="312,100 325,92 340,92 340,110 318,110"/>
<polygon points="110,266 133,259 150,262 166,276 173,304 103,304"/>
</g>
<g fill="#00ff00">
<ellipse cx="28" cy="239" rx="3" ry="2"/>
<ellipse cx="65" cy="242" rx="5" ry="3"/>
<ellipse cx="330" cy="103" rx="14" ry="6"/>
<polygon points="106,285 133,279 146,265 156,276 170,292 170,304 106,304"/>
</g>
<g fill="#009000">
<ellipse cx="331" cy="103" rx="11" ry="5"/>
<polygon points="110,290 135,283 146,271 156,281 166,294 166,304 110,304"/>
</g>
<g fill="#ffff60">
<ellipse cx="332" cy="103" rx="9" ry="4"/>
<polygon points="113,292 140,289 146,282 160,289 166,304 113,304"/>
</g>
<g fill="#ff6060">
<ellipse cx="333" cy="103" rx="5" ry="3"/>
<polygon points="116,294 140,292 148,287 160,294 161,304 116,304"/>
</g>
<g fill="none" stroke="#ff0000" stroke-width="1.4">
<path d="M130,145 C126,138 124,132 125,129 C127,124 130,120 130,115 C130,108 129,103 130,99 C133,90 136,85 140,82 C146,76 150,73 153,70 C158,66 161,63 165,62 C169,61 173,62 173,64 C173,69 172,72 171,75 C168,81 166,85 163,89 C160,96 156,102 153,109 C150,116 148,122 146,129 C144,135 142,138 140,140 C136,142 132,143 130,145 Z"/>
<path d="M183,150 C181,145 180,140 180,135 C180,125 180,116 181,109 C182,101 183,96 185,92 C187,88 190,86 193,85 C198,83 202,82 206,82 C211,83 213,87 215,92 C217,97 217,101 216,105 C214,110 210,113 206,115 C202,118 199,121 198,124 C195,129 194,134 193,139 C191,144 189,147 186,149 Z"/>
<path d="M140,232 L148,232 C151,238 154,244 155,252 C155,259 153,265 150,269 C148,271 146,272 145,271 C142,268 139,265 138,262 C136,256 135,250 135,245 C136,240 138,235 140,232 Z"/>
</g>
</g>
<rect width="340" height="304" fill="none" stroke="#333" stroke-width="1.2"/>
<use href="#ticks"/>
<text class="t e" x="-8" y="33.5">15.0</text><text class="t e" x="-8" y="79.9">12.5</text><text class="t e" x="-8" y="126.3">10.0</text><text class="t e" x="-8" y="172.7">7.5</text><text class="t e" x="-8" y="219.1">5.0</text><text class="t e" x="-8" y="265.5">2.5</text>
<text class="t m" x="83" y="327">70</text><text class="t m" x="169.5" y="327">80</text><text class="t m" x="256" y="327">90</text>
<text class="lab" x="169.5" y="350">X (km)</text>
</g>

<!-- Colorbar 3 -->
<polygon fill="#ff6060" points="1335,949 1335,933 1340.5,923 1346,933 1346,949"/>
<rect x="1335" y="948.9" width="11" height="15.9" fill="#ffaa60"/>
<rect x="1335" y="964.8" width="11" height="15.9" fill="#ffff60"/>
<rect x="1335" y="980.7" width="11" height="15.9" fill="#008f00"/>
<rect x="1335" y="996.6" width="11" height="15.9" fill="#00c000"/>
<rect x="1335" y="1012.4" width="11" height="15.9" fill="#00ff00"/>
<rect x="1335" y="1028.3" width="11" height="15.9" fill="#6060ff"/>
<rect x="1335" y="1044.2" width="11" height="15.9" fill="#60aaff"/>
<rect x="1335" y="1060.1" width="11" height="15.9" fill="#60ffff"/>
<polygon fill="none" stroke="#333" stroke-width="0.8" points="1335,933 1340.5,923 1346,933 1346,1076 1335,1076"/>
<g stroke="#333" stroke-width="0.8">
<line x1="1346" y1="933" x2="1349" y2="933"/><line x1="1346" y1="948.9" x2="1349" y2="948.9"/><line x1="1346" y1="964.8" x2="1349" y2="964.8"/><line x1="1346" y1="980.7" x2="1349" y2="980.7"/><line x1="1346" y1="996.6" x2="1349" y2="996.6"/><line x1="1346" y1="1012.4" x2="1349" y2="1012.4"/><line x1="1346" y1="1028.3" x2="1349" y2="1028.3"/><line x1="1346" y1="1044.2" x2="1349" y2="1044.2"/><line x1="1346" y1="1060.1" x2="1349" y2="1060.1"/><line x1="1346" y1="1076" x2="1349" y2="1076"/>
</g>
<text class="cb3" x="1351" y="938">0.1375</text>
<text class="cb3" x="1351" y="953.9">0.1250</text>
<text class="cb3" x="1351" y="969.8">0.1125</text>
<text class="cb3" x="1351" y="985.7">0.1000</text>
<text class="cb3" x="1351" y="1001.6">0.0875</text>
<text class="cb3" x="1351" y="1017.4">0.0750</text>
<text class="cb3" x="1351" y="1033.3">0.0625</text>
<text class="cb3" x="1351" y="1049.2">0.0500</text>
<text class="cb3" x="1351" y="1065.1">0.0375</text>
<text class="cb3" x="1351" y="1081">0.0250</text>
<text class="cb" style="font-size:16px" text-anchor="middle" transform="translate(1414 1012) rotate(-90)">KL Div.</text>
</svg>
</body></html>
